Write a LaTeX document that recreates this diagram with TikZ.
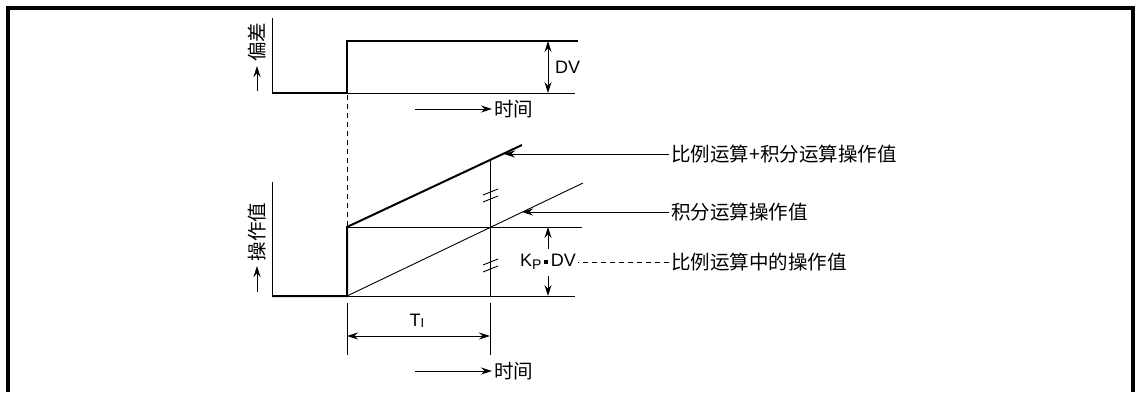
\documentclass[tikz,border=0pt]{standalone}
\usepackage{fontspec}
\setmainfont{Liberation Sans}
\newfontfamily\cjk{Noto Sans CJK SC}
\usetikzlibrary{arrows.meta}
\begin{document}
\begin{tikzpicture}[x=1pt, y=-1pt,
    every node/.style={inner sep=2pt, font=\fontsize{18}{20}\selectfont},
    cn/.style={font=\cjk\fontsize{19.5}{21}\selectfont},
    thin line/.style={line width=0.9pt},
    thick line/.style={line width=2pt},
    arrow/.style={-{Stealth[length=11pt,width=7pt]}, line width=0.9pt},
    dimarrow/.style={{Stealth[length=11pt,width=7pt]}-{Stealth[length=11pt,width=7pt]}, line width=0.9pt}
]
\useasboundingbox (0,0) rectangle (1135,392);

% Marco
\draw[line width=4pt] (8,392) -- (8,8) -- (1133,8) -- (1133,392);

% Desviacion
\coordinate (ya1) at (272,18);
\coordinate (o1) at (272,93);
\coordinate (s1) at (347,93);
\coordinate (s1t) at (347,41);
\coordinate (e1) at (578,41);
\coordinate (b1) at (575,93);
\coordinate (dv1) at (548,41);
\coordinate (dv2) at (548,93);
\draw[thin line] (ya1) -- (o1);
\draw[thick line] (o1) -- (s1) -- (s1t) -- (e1);
\draw[thin line] (s1) -- (b1);
\draw[dimarrow] (dv1) -- (dv2);
\node[anchor=west] (DV) at (553,67) {DV};

\coordinate (ar1a) at (257,91);
\coordinate (ar1b) at (257,66);
\draw[arrow] (ar1a) -- (ar1b);
\node[cn, rotate=90] (dev) at (257,42) {偏差};

\coordinate (t1a) at (415,109);
\node[cn, anchor=west] (t1) at (492,109) {时间};
\draw[arrow] (t1a) -- (t1.west);

% Linea de cambio
\coordinate (s2) at (347,296);
\coordinate (s2t) at (347,227);
\draw[thin line, dash pattern=on 5pt off 4pt] (347,95) -- (s2t);

% Valor de operacion
\coordinate (ya2) at (272,182);
\coordinate (o2) at (272,296);
\coordinate (pi) at (522,145);
\coordinate (ie) at (583,183);
\coordinate (h2) at (582,227);
\coordinate (b2) at (575,296);
\draw[thin line] (ya2) -- (o2);
\draw[thick line] (o2) -- (s2) -- (s2t) -- (pi);
\draw[thin line] (s2t) -- (h2);
\draw[thin line] (s2) -- (ie);
\draw[thin line] (s2) -- (b2);

\coordinate (v1) at (490,160);
\coordinate (v2) at (490,296);
\coordinate (v3) at (490,303);
\coordinate (v4) at (490,355);
\coordinate (k1) at (347,303);
\coordinate (k2) at (347,355);
\draw[thin line] (v1) -- (v2);
\draw[thin line] (v3) -- (v4);
\draw[thin line] (k1) -- (k2);

% Marcas de corte
\foreach \yy in {193,263}{
  \draw[thin line] (483,\yy+2) -- (498,\yy-4);
  \draw[thin line] (483,\yy+9) -- (498,\yy+3);
}

% Tiempo integral
\coordinate (ti1) at (347,336);
\coordinate (ti2) at (490,336);
\draw[dimarrow] (ti1) -- (ti2);
\node (TI) at (417,321) {T\raisebox{-0.1ex}{\fontsize{13}{14}\selectfont I}};

% Kp DV
\coordinate (kp1) at (548,249);
\coordinate (kp2) at (548,227);
\coordinate (kp3) at (548,276);
\coordinate (kp4) at (548,296);
\draw[arrow] (kp1) -- (kp2);
\draw[arrow] (kp3) -- (kp4);
\node (KP) at (548,262) {K\raisebox{-0.35ex}{\fontsize{14}{15}\selectfont P}\,\raisebox{0.3ex}{\rule{3.5pt}{3.5pt}}\,DV};

% Etiquetas
\node[cn, anchor=west] (lblA) at (669,154) {比例运算+积分运算操作值};
\node[cn, anchor=west] (lblB) at (669,212) {积分运算操作值};
\node[cn, anchor=west] (lblC) at (669,262) {比例运算中的操作值};
\coordinate (pA) at (504,154);
\coordinate (pB) at (522,212);
\draw[arrow] (lblA.west) -- (pA);
\draw[arrow] (lblB.west) -- (pB);
\draw[thin line, dash pattern=on 5pt off 4pt] (lblC.west) -- (KP.east);

\coordinate (ar2a) at (257,292);
\coordinate (ar2b) at (257,266);
\draw[arrow] (ar2a) -- (ar2b);
\node[cn, rotate=90] (op) at (257,232) {操作值};

\coordinate (t2a) at (415,371);
\node[cn, anchor=west] (t2) at (492,371) {时间};
\draw[arrow] (t2a) -- (t2.west);

\end{tikzpicture}
\end{document}
